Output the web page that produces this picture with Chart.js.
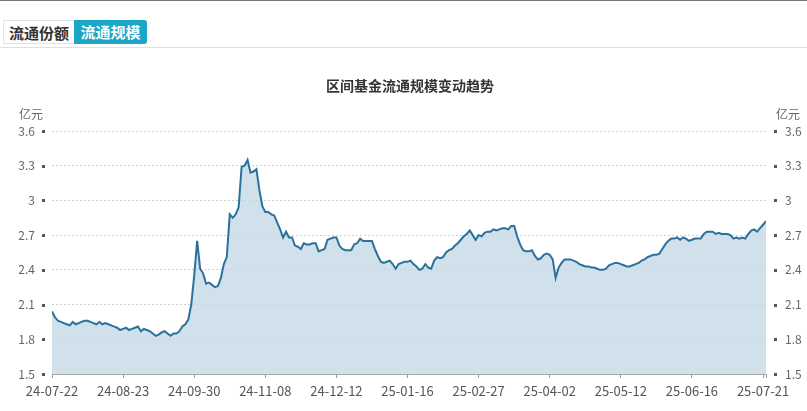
<!DOCTYPE html>
<html>
<head>
<meta charset="utf-8">
<script src="https://cdn.jsdelivr.net/npm/chart.js@4.4.1/dist/chart.umd.min.js"></script>
<style>
  html, body { margin: 0; padding: 0; background: #fff; }
  body { width: 807px; height: 411px; position: relative; overflow: hidden; font-family: 'Noto Sans CJK SC', 'Noto Sans', sans-serif; }
  .topline { position: absolute; left: 0; top: 0; width: 807px; height: 1px; background: #777; }
  .tabs { position: absolute; left: 3px; top: 20px; height: 24px; display: flex; }
  .tab { height: 24px; line-height: 24px; font-size: 15px; font-weight: bold; text-align: center; box-sizing: border-box; }
  .tab.off { width: 71px; color: #333; border: 1px solid #e2e2e2; border-right: none; background: #fff; }
  .tab.on { width: 73px; color: #fff; background: #1aa6c6; border-radius: 0 3px 3px 0; }
  .rule { position: absolute; left: 0; top: 47px; width: 807px; height: 1px; background: #e0e0e0; }
  canvas { position: absolute; left: 0; top: 0; }
</style>
</head>
<body>
<div class="topline"></div>
<div class="tabs"><div class="tab off">流通份额</div><div class="tab on">流通规模</div></div>
<div class="rule"></div>
<canvas id="grafico" width="807" height="411"></canvas>
<script>
const tickLabels = ['24-07-22', '24-08-23', '24-09-30', '24-11-08', '24-12-12', '25-01-16',
                    '25-02-27', '25-04-02', '25-05-12', '25-06-16', '25-07-21']

// 区间流通规模（亿元），每个交易日一个点
const values = [
  2.04,1.99,1.96,1.95,1.94,1.93,1.92,1.95,1.93,1.94,
  1.95,1.96,1.96,1.95,1.94,1.93,1.95,1.93,1.94,1.93,
  1.92,1.91,1.90,1.88,1.89,1.90,1.88,1.89,1.90,1.91,
  1.87,1.89,1.88,1.87,1.85,1.83,1.84,1.86,1.87,1.85,
  1.83,1.85,1.85,1.87,1.91,1.93,1.97,2.10,2.35,2.65,
  2.41,2.37,2.28,2.29,2.27,2.25,2.26,2.33,2.45,2.51,
  2.88,2.85,2.88,2.94,3.29,3.30,3.35,3.24,3.25,3.27,
  3.09,2.95,2.90,2.90,2.88,2.87,2.81,2.75,2.68,2.73,
  2.68,2.68,2.61,2.60,2.58,2.63,2.62,2.62,2.63,2.63,
  2.56,2.57,2.58,2.66,2.67,2.68,2.68,2.61,2.58,2.57,
  2.57,2.57,2.62,2.63,2.67,2.65,2.65,2.65,2.65,2.58,
  2.52,2.47,2.46,2.47,2.48,2.45,2.41,2.45,2.46,2.47,
  2.47,2.48,2.45,2.43,2.40,2.41,2.45,2.42,2.41,2.48,
  2.51,2.50,2.51,2.55,2.57,2.58,2.61,2.63,2.66,2.69,
  2.71,2.74,2.70,2.66,2.70,2.69,2.72,2.73,2.73,2.75,
  2.74,2.75,2.76,2.76,2.75,2.78,2.78,2.69,2.62,2.57,
  2.56,2.56,2.57,2.52,2.49,2.50,2.53,2.54,2.53,2.49,
  2.33,2.42,2.46,2.49,2.49,2.49,2.48,2.47,2.45,2.44,
  2.43,2.43,2.42,2.42,2.41,2.40,2.40,2.41,2.44,2.45,
  2.46,2.46,2.45,2.44,2.43,2.43,2.44,2.45,2.46,2.48,
  2.49,2.51,2.52,2.53,2.53,2.54,2.58,2.62,2.65,2.67,
  2.67,2.68,2.66,2.68,2.67,2.65,2.66,2.67,2.67,2.67,
  2.71,2.73,2.73,2.73,2.71,2.72,2.71,2.71,2.71,2.70,
  2.67,2.68,2.67,2.68,2.67,2.71,2.74,2.75,2.73,2.76,
  2.79,2.82
]

const labelStep = 24
const yMin = 1.5, yMax = 3.6, yStep = 0.3
const title = '区间基金流通规模变动趋势'
const unit = '亿元'

Chart.defaults.font.family = "'Noto Sans CJK SC', 'Noto Sans', sans-serif"
Chart.defaults.font.size = 12
Chart.defaults.color = '#666'

// 标题、单位和刻度旁的小方块
const extras = {
  id: 'extras',
  afterDraw(chart) {
    const ctx = chart.ctx
    const y = chart.scales.y
    ctx.save()
    ctx.fillStyle = '#555'
    y.ticks.forEach(t => {
      const py = Math.round(y.getPixelForValue(t.value))
      ctx.fillRect(42, py - 1, 3, 3)
      ctx.fillRect(774, py - 1, 3, 3)
    })
    ctx.fillStyle = '#333'
    ctx.font = "bold 14px 'Noto Sans CJK SC', sans-serif"
    ctx.textAlign = 'center'
    ctx.textBaseline = 'middle'
    ctx.fillText(title, 410, 86)
    ctx.fillStyle = '#666'
    ctx.font = "12px 'Noto Sans CJK SC', sans-serif"
    ctx.textAlign = 'left'
    ctx.fillText(unit, 19, 114)
    ctx.fillText(unit, 776, 114)
    ctx.restore()
  }
}

const fmt = v => String(Number(v.toFixed(1)))

new Chart(document.getElementById('grafico'), {
  type: 'line',
  plugins: [extras],
  data: {
    datasets: [{
      data: values.map((v, i) => ({ x: i, y: v })),
      borderColor: '#2a719c',
      backgroundColor: 'rgba(196,217,230,0.8)',
      borderWidth: 2,
      fill: 'start',
      pointRadius: 0,
      tension: 0,
      yAxisID: 'y'
    }]
  },
  options: {
    responsive: false,
    animation: false,
    layout: { padding: { top: 131, left: 0, right: 0, bottom: 0 } },
    plugins: { legend: { display: false }, tooltip: { enabled: false } },
    scales: {
      x: {
        type: 'linear',
        position: 'bottom',
        min: 0,
        max: values.length - 1,
        afterFit: s => { s.height = 37 },
        afterBuildTicks: s => {
          s.ticks = tickLabels.map((_, k) => ({ value: k * labelStep }))
          s.ticks.push({ value: values.length - 1 })
        },
        grid: { drawOnChartArea: false, drawTicks: true, tickLength: 4, color: '#999' },
        border: { color: '#aaa' },
        ticks: {
          autoSkip: false,
          maxRotation: 0,
          padding: 5,
          color: '#555',
          font: { size: 13 },
          callback: v => (v % labelStep === 0 ? tickLabels[v / labelStep] : '')
        }
      },
      y: {
        position: 'left',
        min: yMin,
        max: yMax,
        afterFit: s => { s.width = 52 },
        border: { display: false, dash: [2, 2] },
        grid: { color: '#cfcfcf', drawTicks: false },
        ticks: { stepSize: yStep, padding: 17, callback: fmt }
      },
      y2: {
        position: 'right',
        min: yMin,
        max: yMax,
        afterFit: s => { s.width = 41 },
        border: { display: false },
        grid: { drawOnChartArea: false, drawTicks: false },
        ticks: { stepSize: yStep, padding: 19, callback: fmt }
      }
    }
  }
})
</script>
</body>
</html>
